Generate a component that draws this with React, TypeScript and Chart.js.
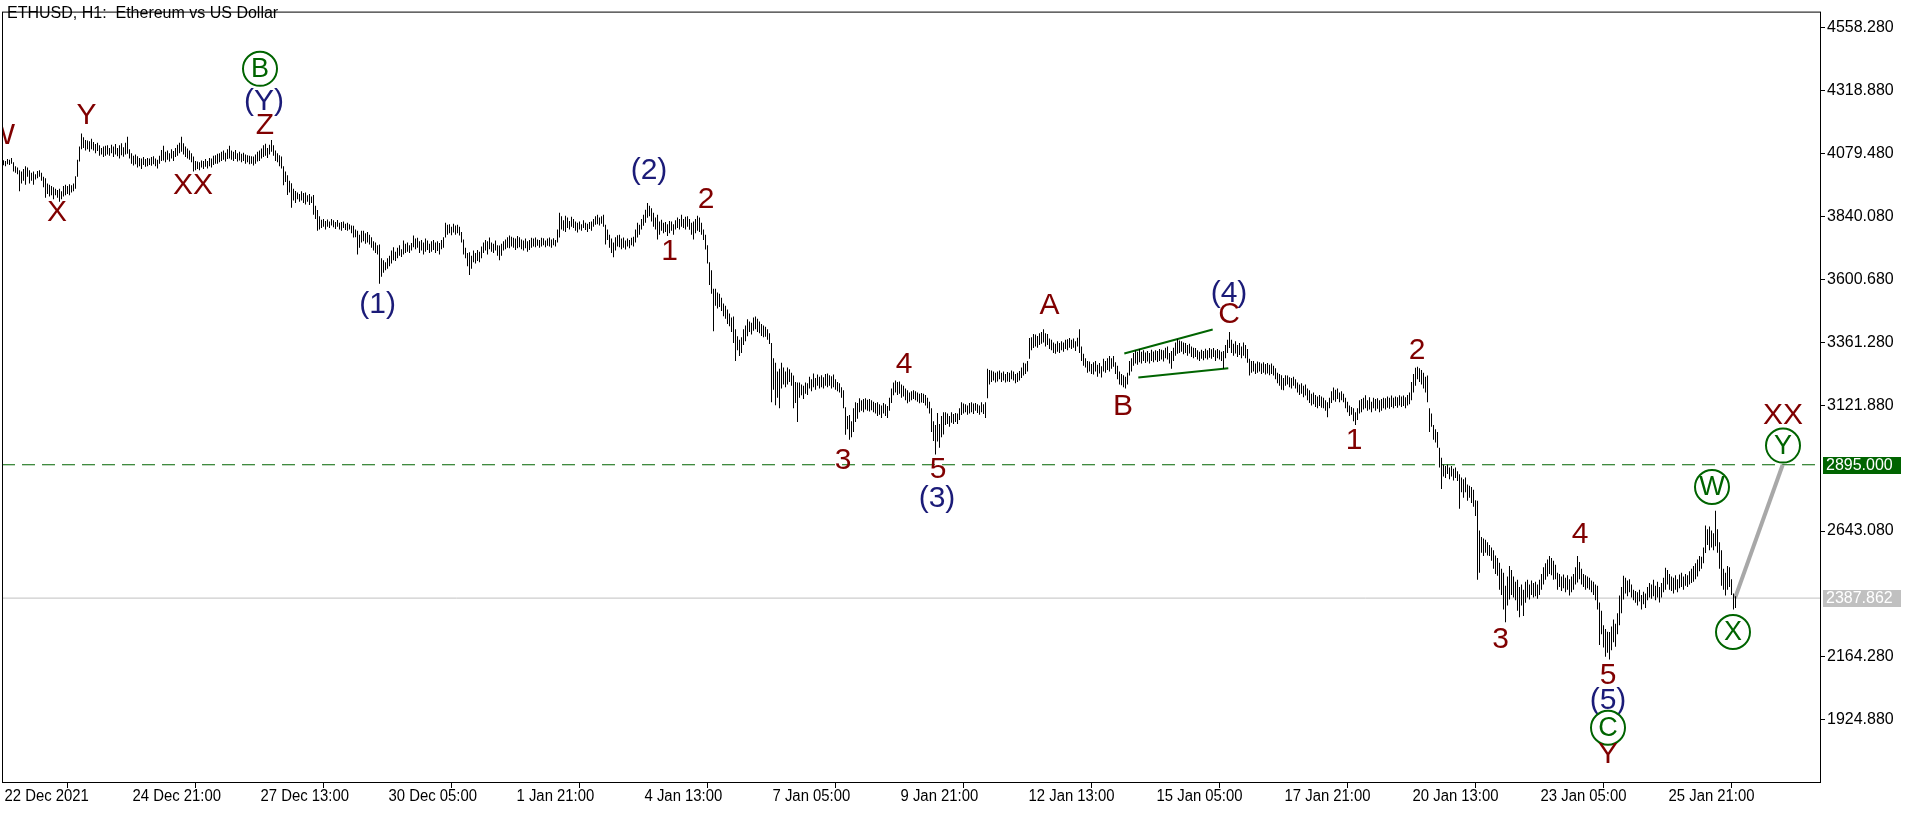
import React, { useEffect, useRef } from 'react';
import { Chart, registerables } from 'chart.js';

Chart.register(...registerables);

const chartTitle = 'ETHUSD, H1:  Ethereum vs US Dollar';

// x axis: one unit = one hourly bar, bar 0 = 22 Dec 2021 05:00
const timeTickBars = [0, 64, 128, 192, 256, 320, 384, 448, 512, 576, 640, 704, 768, 832];
const timeTickLabels = [
  '22 Dec 2021', '24 Dec 21:00', '27 Dec 13:00', '30 Dec 05:00', '1 Jan 21:00', '4 Jan 13:00',
  '7 Jan 05:00', '9 Jan 21:00', '12 Jan 13:00', '15 Jan 05:00', '17 Jan 21:00', '20 Jan 13:00',
  '23 Jan 05:00', '25 Jan 21:00',
];
const priceTicks = [4558.28, 4318.88, 4079.48, 3840.08, 3600.68, 3361.28, 3121.88, 2643.08, 2164.28, 1924.88];

// hourly [low, high]
const hourBars: [number, number][] = [
  [4034,4053],[4030,4050],[4038,4058],[4035,4055],[4040,4062],[4010,4045],[4005,4030],[4000,4025],[3935,4015],[3965,4010],[3975,4020],[3960,4030],
  [3990,4025],[3965,4015],[3975,4005],[3960,4010],[3980,4000],[3985,4012],[3990,4015],[3975,4005],[3950,3990],[3910,3985],[3925,3965],[3915,3960],
  [3920,3955],[3905,3950],[3920,3945],[3910,3940],[3895,3945],[3905,3935],[3915,3955],[3920,3960],[3925,3955],[3920,3962],[3930,3958],[3935,3965],
  [3945,3992],[3990,4055],[4048,4105],[4095,4155],[4100,4140],[4090,4130],[4095,4128],[4085,4125],[4095,4135],[4090,4122],[4080,4115],[4088,4120],
  [4070,4110],[4075,4100],[4065,4105],[4070,4108],[4075,4110],[4070,4100],[4080,4112],[4065,4105],[4075,4115],[4068,4100],[4060,4110],[4072,4118],
  [4066,4102],[4075,4120],[4078,4142],[4060,4095],[4040,4080],[4033,4070],[4038,4075],[4025,4068],[4030,4062],[4020,4060],[4035,4065],[4028,4058],
  [4030,4062],[4035,4060],[4032,4065],[4038,4068],[4030,4060],[4022,4055],[4040,4070],[4050,4092],[4052,4108],[4045,4085],[4055,4090],[4048,4080],
  [4060,4095],[4050,4088],[4065,4100],[4070,4112],[4080,4120],[4085,4142],[4075,4118],[4065,4105],[4060,4098],[4055,4090],[4045,4080],[4010,4067],
  [4015,4050],[4020,4048],[4015,4045],[4025,4052],[4020,4050],[4028,4058],[4022,4050],[4030,4062],[4025,4060],[4035,4070],[4040,4072],[4040,4078],
  [4045,4080],[4050,4085],[4055,4090],[4048,4082],[4058,4095],[4060,4108],[4055,4090],[4050,4085],[4058,4092],[4048,4080],[4052,4085],[4045,4078],
  [4050,4082],[4040,4075],[4045,4072],[4038,4070],[4040,4068],[4033,4067],[4040,4075],[4048,4085],[4050,4090],[4060,4098],[4065,4110],[4070,4116],
  [4062,4100],[4075,4112],[4085,4130],[4070,4110],[4050,4090],[4045,4080],[4030,4072],[4022,4067],[3958,4030],[3970,4010],[3921,3996],[3930,3975],
  [3872,3966],[3900,3945],[3890,3936],[3905,3930],[3895,3925],[3900,3935],[3890,3928],[3885,3930],[3895,3920],[3883,3925],[3890,3915],[3846,3921],
  [3830,3880],[3785,3864],[3790,3840],[3795,3827],[3800,3830],[3790,3822],[3800,3828],[3795,3820],[3805,3830],[3798,3825],[3792,3818],[3800,3826],
  [3790,3815],[3785,3818],[3795,3820],[3788,3812],[3785,3815],[3790,3810],[3775,3805],[3759,3804],[3760,3790],[3695,3785],[3720,3770],[3740,3785],
  [3745,3785],[3735,3775],[3740,3780],[3733,3770],[3720,3760],[3710,3745],[3700,3740],[3695,3730],[3583,3733],[3610,3680],[3625,3673],[3635,3665],
  [3640,3680],[3650,3690],[3660,3710],[3673,3722],[3670,3705],[3680,3720],[3690,3730],[3685,3715],[3695,3748],[3700,3735],[3705,3740],[3700,3730],
  [3710,3738],[3722,3767],[3715,3755],[3720,3758],[3700,3745],[3710,3750],[3695,3740],[3705,3755],[3712,3748],[3700,3735],[3705,3745],[3712,3750],
  [3700,3740],[3708,3745],[3695,3738],[3715,3750],[3720,3760],[3759,3815],[3770,3808],[3775,3810],[3768,3800],[3778,3812],[3770,3805],[3775,3808],
  [3767,3800],[3740,3780],[3695,3752],[3680,3720],[3650,3700],[3617,3703],[3640,3690],[3665,3710],[3660,3700],[3670,3712],[3665,3705],[3680,3725],
  [3700,3740],[3710,3750],[3695,3745],[3715,3759],[3705,3740],[3700,3735],[3710,3748],[3690,3730],[3673,3729],[3690,3735],[3710,3745],[3715,3752],
  [3720,3760],[3718,3767],[3725,3762],[3720,3758],[3712,3755],[3718,3765],[3722,3760],[3715,3752],[3710,3748],[3718,3755],[3705,3745],[3712,3750],
  [3720,3758],[3725,3755],[3722,3759],[3728,3752],[3720,3750],[3725,3758],[3730,3756],[3722,3748],[3728,3755],[3725,3759],[3720,3752],[3730,3756],
  [3725,3750],[3740,3790],[3759,3853],[3790,3840],[3785,3825],[3780,3842],[3795,3835],[3790,3822],[3800,3838],[3795,3830],[3785,3820],[3778,3815],
  [3790,3820],[3785,3810],[3795,3825],[3788,3815],[3780,3812],[3792,3818],[3785,3820],[3800,3830],[3808,3840],[3810,3846],[3805,3835],[3812,3840],
  [3800,3846],[3733,3808],[3750,3790],[3720,3770],[3700,3755],[3684,3740],[3710,3760],[3725,3768],[3722,3770],[3715,3755],[3720,3759],[3714,3748],
  [3725,3755],[3718,3750],[3730,3758],[3725,3762],[3740,3790],[3759,3815],[3770,3808],[3790,3830],[3804,3846],[3815,3865],[3834,3890],[3840,3880],
  [3820,3870],[3800,3853],[3790,3835],[3752,3846],[3770,3820],[3785,3827],[3775,3815],[3780,3818],[3765,3810],[3775,3822],[3785,3820],[3770,3810],
  [3790,3825],[3795,3835],[3790,3830],[3800,3846],[3795,3830],[3790,3838],[3800,3840],[3789,3830],[3770,3815],[3752,3820],[3775,3830],[3785,3842],
  [3780,3835],[3770,3815],[3750,3790],[3714,3770],[3660,3730],[3579,3665],[3545,3635],[3403,3564],[3500,3564],[3489,3550],[3495,3545],[3480,3530],
  [3460,3508],[3450,3500],[3430,3485],[3422,3470],[3400,3455],[3358,3459],[3290,3410],[3330,3384],[3309,3370],[3320,3380],[3350,3410],[3365,3425],
  [3384,3448],[3400,3440],[3390,3435],[3405,3455],[3410,3459],[3400,3450],[3395,3440],[3385,3430],[3380,3425],[3382,3420],[3370,3410],[3354,3395],
  [3133,3358],[3180,3300],[3121,3283],[3150,3250],[3110,3260],[3185,3283],[3200,3265],[3190,3250],[3200,3265],[3210,3258],[3195,3245],[3110,3234],
  [3130,3210],[3058,3208],[3150,3208],[3159,3200],[3145,3195],[3165,3208],[3160,3205],[3185,3230],[3175,3220],[3190,3242],[3180,3225],[3195,3238],
  [3185,3230],[3190,3235],[3185,3228],[3195,3240],[3190,3242],[3195,3235],[3185,3232],[3190,3238],[3180,3220],[3175,3210],[3170,3205],[3150,3190],
  [3110,3178],[3009,3114],[3030,3080],[2990,3084],[3000,3060],[3020,3110],[3058,3133],[3070,3130],[3095,3148],[3100,3140],[3095,3145],[3105,3148],
  [3100,3142],[3098,3145],[3102,3140],[3095,3135],[3090,3130],[3080,3133],[3085,3125],[3073,3120],[3090,3130],[3080,3125],[3073,3118],[3100,3150],
  [3130,3185],[3159,3208],[3170,3215],[3160,3210],[3165,3212],[3150,3200],[3155,3195],[3140,3185],[3129,3178],[3135,3170],[3140,3175],[3145,3178],
  [3140,3175],[3135,3170],[3129,3165],[3132,3168],[3130,3165],[3120,3160],[3110,3150],[3090,3135],[3020,3110],[2985,3060],[2934,3046],[2983,3092],
  [2960,3050],[3000,3080],[3010,3095],[3046,3095],[3050,3090],[3040,3080],[3055,3095],[3050,3088],[3058,3092],[3050,3090],[3065,3110],[3084,3133],
  [3090,3128],[3095,3125],[3085,3120],[3090,3130],[3095,3133],[3088,3128],[3100,3130],[3092,3125],[3085,3120],[3095,3133],[3088,3125],[3073,3133],
  [3148,3260],[3200,3255],[3210,3253],[3215,3250],[3208,3245],[3212,3250],[3220,3253],[3210,3245],[3215,3250],[3208,3240],[3212,3248],[3210,3245],
  [3220,3253],[3215,3250],[3205,3240],[3210,3245],[3215,3252],[3225,3265],[3234,3283],[3240,3280],[3250,3290],[3298,3377],[3330,3380],[3339,3392],
  [3345,3390],[3340,3385],[3350,3395],[3355,3400],[3360,3410],[3345,3395],[3350,3392],[3335,3375],[3330,3370],[3320,3360],[3317,3355],[3325,3365],
  [3320,3358],[3330,3365],[3325,3360],[3335,3370],[3330,3372],[3340,3377],[3335,3370],[3340,3375],[3328,3365],[3345,3378],[3320,3410],[3290,3345],
  [3272,3317],[3265,3300],[3245,3290],[3250,3288],[3240,3278],[3238,3285],[3250,3290],[3230,3275],[3242,3282],[3227,3270],[3250,3298],[3245,3290],
  [3255,3300],[3250,3309],[3260,3300],[3268,3309],[3240,3285],[3220,3272],[3200,3250],[3197,3240],[3190,3235],[3185,3230],[3200,3245],[3234,3290],
  [3250,3300],[3272,3320],[3280,3330],[3275,3325],[3285,3335],[3280,3325],[3290,3330],[3282,3322],[3288,3328],[3280,3320],[3290,3332],[3285,3326],
  [3292,3330],[3286,3328],[3290,3335],[3295,3332],[3288,3330],[3300,3340],[3295,3345],[3280,3320],[3260,3328],[3290,3340],[3310,3360],[3317,3373],
  [3320,3368],[3325,3365],[3315,3360],[3320,3358],[3310,3350],[3318,3355],[3305,3345],[3300,3340],[3305,3339],[3295,3330],[3290,3325],[3298,3332],
  [3292,3328],[3300,3336],[3295,3330],[3302,3339],[3298,3334],[3305,3339],[3290,3330],[3300,3335],[3295,3330],[3290,3325],[3260,3328],[3300,3350],
  [3320,3370],[3339,3400],[3320,3370],[3310,3355],[3318,3365],[3305,3350],[3312,3358],[3300,3345],[3310,3360],[3300,3350],[3283,3335],[3234,3298],
  [3245,3290],[3250,3290],[3240,3280],[3245,3288],[3250,3285],[3240,3280],[3245,3285],[3238,3278],[3242,3282],[3235,3275],[3240,3280],[3234,3272],
  [3220,3262],[3205,3245],[3195,3240],[3180,3235],[3178,3225],[3195,3235],[3200,3234],[3190,3228],[3185,3225],[3195,3230],[3185,3220],[3170,3208],
  [3160,3200],[3165,3205],[3152,3195],[3158,3200],[3140,3185],[3130,3178],[3120,3165],[3125,3170],[3115,3160],[3110,3155],[3118,3160],[3112,3155],
  [3110,3150],[3100,3140],[3076,3133],[3110,3150],[3130,3175],[3140,3189],[3135,3180],[3145,3185],[3133,3170],[3140,3175],[3133,3165],[3110,3150],
  [3095,3135],[3080,3120],[3085,3115],[3060,3110],[3046,3095],[3065,3110],[3090,3140],[3095,3145],[3105,3150],[3110,3159],[3100,3140],[3105,3152],
  [3095,3135],[3110,3150],[3100,3145],[3108,3148],[3095,3140],[3100,3145],[3110,3150],[3105,3148],[3112,3155],[3108,3150],[3115,3158],[3110,3150],
  [3118,3155],[3112,3152],[3120,3159],[3115,3155],[3118,3158],[3110,3152],[3120,3160],[3125,3170],[3140,3210],[3170,3240],[3195,3264],[3220,3268],
  [3210,3262],[3200,3255],[3185,3245],[3170,3230],[3133,3234],[3020,3110],[3040,3090],[2990,3046],[2980,3030],[2960,3020],[2885,2960],[2803,2922],
  [2850,2896],[2845,2890],[2860,2896],[2840,2885],[2850,2890],[2835,2880],[2845,2885],[2833,2870],[2728,2859],[2790,2847],[2770,2840],[2790,2847],
  [2758,2820],[2770,2815],[2750,2810],[2735,2800],[2700,2760],[2458,2758],[2484,2645],[2560,2620],[2548,2615],[2560,2610],[2550,2600],[2548,2590],
  [2530,2580],[2500,2570],[2480,2550],[2473,2540],[2420,2522],[2400,2500],[2345,2484],[2296,2435],[2360,2470],[2383,2510],[2400,2495],[2390,2470],
  [2380,2450],[2340,2458],[2315,2430],[2360,2440],[2320,2420],[2370,2450],[2390,2458],[2383,2440],[2400,2455],[2390,2445],[2395,2450],[2385,2440],
  [2400,2458],[2420,2480],[2440,2505],[2458,2520],[2470,2535],[2480,2548],[2475,2540],[2458,2530],[2460,2515],[2420,2484],[2430,2480],[2415,2470],
  [2425,2478],[2410,2465],[2420,2475],[2398,2460],[2410,2470],[2420,2480],[2440,2505],[2447,2548],[2460,2525],[2440,2500],[2430,2480],[2420,2475],
  [2425,2470],[2420,2465],[2410,2455],[2400,2450],[2380,2440],[2345,2435],[2210,2371],[2250,2340],[2200,2285],[2165,2270],[2180,2260],[2154,2259],
  [2190,2280],[2220,2307],[2203,2290],[2250,2330],[2285,2398],[2330,2430],[2383,2473],[2405,2465],[2395,2455],[2410,2460],[2390,2440],[2380,2420],
  [2370,2415],[2360,2410],[2375,2420],[2345,2400],[2365,2412],[2350,2405],[2380,2430],[2390,2445],[2385,2440],[2395,2458],[2380,2435],[2390,2450],
  [2371,2430],[2390,2445],[2410,2465],[2420,2503],[2440,2495],[2420,2480],[2415,2470],[2405,2465],[2420,2475],[2410,2460],[2425,2478],[2430,2484],
  [2420,2470],[2435,2480],[2430,2475],[2440,2490],[2445,2500],[2450,2510],[2460,2520],[2470,2535],[2490,2548],[2500,2545],[2520,2580],[2559,2664],
  [2590,2650],[2570,2660],[2580,2645],[2570,2635],[2585,2720],[2560,2650],[2500,2600],[2435,2570],[2420,2500],[2398,2484],[2420,2510],[2430,2505],
  [2400,2460],[2345,2405],[2350,2395],
];

const targetLevel = 2895.0;
const lastPrice = 2387.862;

// triangle (wedge) trend lines
const wedgeUpperBars = [560.4, 604.6];
const wedgeUpperPrices = [3317.8, 3409.3];
const wedgeLowerBars = [567.4, 612.4];
const wedgeLowerPrices = [3226.7, 3261.6];

// projected path X -> Y
const projectionBars = [865.75, 889.6];
const projectionPrices = [2387.862, 2895.0];

// Elliott wave labels
const waveTexts = ['W', 'Y', 'X', 'XX', 'Z', '(Y)', 'B', '(1)', '(2)', '2', '1', '3', '4', '5', '(3)', 'A', 'B', '(4)', 'C', '1', '2', '3', '4', '5', '(5)', 'C', 'Y', 'W', 'X', 'Y', 'XX'];
const waveBars = [-1.25, 41.5, 26.75, 94.75, 130.75, 130.25, 128.25, 187.05, 322.75, 351.25, 333.05, 419.75, 450.25, 467.25, 466.75, 523.05, 559.75, 612.75, 612.75, 675.25, 706.75, 748.5, 788.25, 802.25, 802.25, 802.25, 802.25, 854.25, 864.75, 889.75, 889.75];
const wavePrices = [4145.7, 4222.6, 3853.1, 3954.4, 4183.2, 4276.9, 4400.7, 3504.2, 4012.5, 3901.8, 3706.8, 2911.6, 3275.4, 2876.0, 2765.3, 3500.5, 3114.1, 3545.5, 3466.7, 2986.6, 3327.9, 2228.9, 2628.4, 2093.9, 1998.3, 1895.0, 1793.8, 2810.3, 2258.9, 2967.9, 3082.3];
const waveKinds = ['minor', 'minor', 'minor', 'minor', 'minor', 'paren', 'circle', 'paren', 'paren', 'minor', 'minor', 'minor', 'minor', 'minor', 'paren', 'minor', 'minor', 'paren', 'minor', 'minor', 'minor', 'minor', 'minor', 'minor', 'paren', 'circle', 'minor', 'circle', 'circle', 'circle', 'minor'];

const MAROON = '#800000';
const NAVY = '#1b1b78';
const GREEN = '#006400';
const FONT = '"Liberation Sans", Arial, sans-serif';

const X_MIN = -0.75;
const X_MAX = 908.25;

const annotationPlugin: any = {
  id: 'ewAnnotations',
  beforeDraw(chart: any) {
    const { ctx, width, height } = chart;
    ctx.save();
    ctx.fillStyle = '#ffffff';
    ctx.fillRect(0, 0, width, height);
    ctx.restore();
  },
  afterDatasetsDraw(chart: any) {
    const { ctx, chartArea: a } = chart;
    const xs = chart.scales.x;
    const ys = chart.scales.y;
    ctx.save();
    ctx.beginPath();
    ctx.rect(a.left, a.top, a.right - a.left, a.bottom - a.top);
    ctx.clip();
    ctx.textAlign = 'center';
    ctx.textBaseline = 'middle';
    waveTexts.forEach((t, i) => {
      const px = xs.getPixelForValue(waveBars[i]);
      const py = ys.getPixelForValue(wavePrices[i]);
      const kind = waveKinds[i];
      if (kind === 'circle') {
        ctx.strokeStyle = GREEN;
        ctx.lineWidth = 2;
        ctx.beginPath();
        ctx.arc(px, py, 17, 0, Math.PI * 2);
        ctx.stroke();
        ctx.fillStyle = GREEN;
        ctx.font = `27px ${FONT}`;
        ctx.fillText(t, px, py + 1);
      } else {
        ctx.fillStyle = kind === 'paren' ? NAVY : MAROON;
        ctx.font = `30px ${FONT}`;
        ctx.fillText(t, px, py);
      }
    });
    ctx.restore();

    ctx.save();
    ctx.strokeStyle = '#000000';
    ctx.lineWidth = 1;
    ctx.strokeRect(a.left + 0.5, a.top + 0.5, a.right - a.left, a.bottom - a.top);

    ctx.fillStyle = '#000000';
    ctx.font = `16px ${FONT}`;
    ctx.textAlign = 'left';
    ctx.textBaseline = 'middle';
    ctx.fillText(chartTitle, 7, 14);

    // time axis labels (condensed, like the terminal's font)
    ctx.font = `16px ${FONT}`;
    timeTickBars.forEach((b, i) => {
      const px = xs.getPixelForValue(b);
      ctx.save();
      ctx.translate(px + 1, a.bottom + 15);
      ctx.scale(0.93, 1);
      ctx.fillText(timeTickLabels[i], 0, 0);
      ctx.restore();
    });

    const boxes: [number, string, string][] = [
      [targetLevel, GREEN, targetLevel.toFixed(3)],
      [lastPrice, '#c0c0c0', lastPrice.toFixed(3)],
    ];
    boxes.forEach(([v, bg, txt]) => {
      const py = Math.round(ys.getPixelForValue(v));
      ctx.fillStyle = bg;
      ctx.fillRect(a.right + 3, py - 8, 78, 17);
      ctx.fillStyle = '#ffffff';
      ctx.font = `16px ${FONT}`;
      ctx.fillText(txt, a.right + 6, py + 1);
    });
    ctx.restore();
  },
};

function segment(bars: number[], prices: number[]) {
  return bars.map((b, i) => ({ x: b, y: prices[i] }));
}

export default function App() {
  const ref = useRef<HTMLCanvasElement>(null);

  useEffect(() => {
    document.body.style.margin = '0';
    const canvas = ref.current;
    if (!canvas) return;
    const chart = new Chart(canvas, {
      type: 'bar',
      data: {
        datasets: [
          {
            type: 'bar',
            label: 'ETHUSD H1',
            data: hourBars.map((r, i) => ({ x: i, y: r })) as any,
            backgroundColor: '#000000',
            borderWidth: 0,
            barThickness: 1,
            inflateAmount: 0,
            order: 0,
          } as any,
          {
            type: 'line',
            label: 'target',
            data: segment([X_MIN, X_MAX], [targetLevel, targetLevel]),
            borderColor: GREEN,
            borderWidth: 1,
            borderDash: [13, 7],
            pointRadius: 0,
            order: 2,
          } as any,
          {
            type: 'line',
            label: 'last',
            data: segment([X_MIN, X_MAX], [lastPrice, lastPrice]),
            borderColor: '#c0c0c0',
            borderWidth: 1,
            pointRadius: 0,
            order: 2,
          } as any,
          {
            type: 'line',
            label: 'wedge upper',
            data: segment(wedgeUpperBars, wedgeUpperPrices),
            borderColor: GREEN,
            borderWidth: 2,
            pointRadius: 0,
            order: 1,
          } as any,
          {
            type: 'line',
            label: 'wedge lower',
            data: segment(wedgeLowerBars, wedgeLowerPrices),
            borderColor: GREEN,
            borderWidth: 2,
            pointRadius: 0,
            order: 1,
          } as any,
          {
            type: 'line',
            label: 'projection',
            data: segment(projectionBars, projectionPrices),
            borderColor: '#a8a8a8',
            borderWidth: 4,
            pointRadius: 0,
            order: 1,
          } as any,
        ],
      },
      options: {
        animation: false,
        responsive: false,
        devicePixelRatio: 1,
        layout: { padding: { left: 2, top: 1, right: 0, bottom: 0 }, autoPadding: false } as any,
        plugins: { legend: { display: false }, tooltip: { enabled: false }, title: { display: false } },
        events: [],
        scales: {
          x: {
            type: 'linear',
            min: X_MIN,
            max: X_MAX,
            offset: false,
            afterBuildTicks: (s: any) => {
              s.ticks = timeTickBars.map((v) => ({ value: v }));
            },
            afterFit: (s: any) => {
              s.height = 31;
            },
            grid: { drawOnChartArea: false, drawTicks: true, tickLength: 6, tickColor: '#000000' },
            border: { display: false },
            ticks: {
              display: false,
              autoSkip: false,
              maxRotation: 0,
              minRotation: 0,
              callback: (_v: any, idx: number) => timeTickLabels[idx] ?? '',
            },
          } as any,
          y: {
            type: 'linear',
            position: 'right',
            min: 1688.6,
            max: 4618.3,
            afterBuildTicks: (s: any) => {
              s.ticks = priceTicks.map((v) => ({ value: v }));
            },
            afterFit: (s: any) => {
              s.width = 96;
            },
            grid: { drawOnChartArea: false, drawTicks: true, tickLength: 5, tickColor: '#000000' },
            border: { display: false },
            ticks: {
              padding: 2,
              color: '#000000',
              font: { family: FONT, size: 16 },
              callback: (v: any) => Number(v).toFixed(3),
            },
          } as any,
        },
      },
      plugins: [annotationPlugin],
    } as any);
    return () => chart.destroy();
  }, []);

  return (
    <div style={{ width: 1916, height: 813, overflow: 'hidden' }}>
      <canvas ref={ref} width={1916} height={813} style={{ display: 'block', width: '1916px', height: '813px' }} />
    </div>
  );
}
